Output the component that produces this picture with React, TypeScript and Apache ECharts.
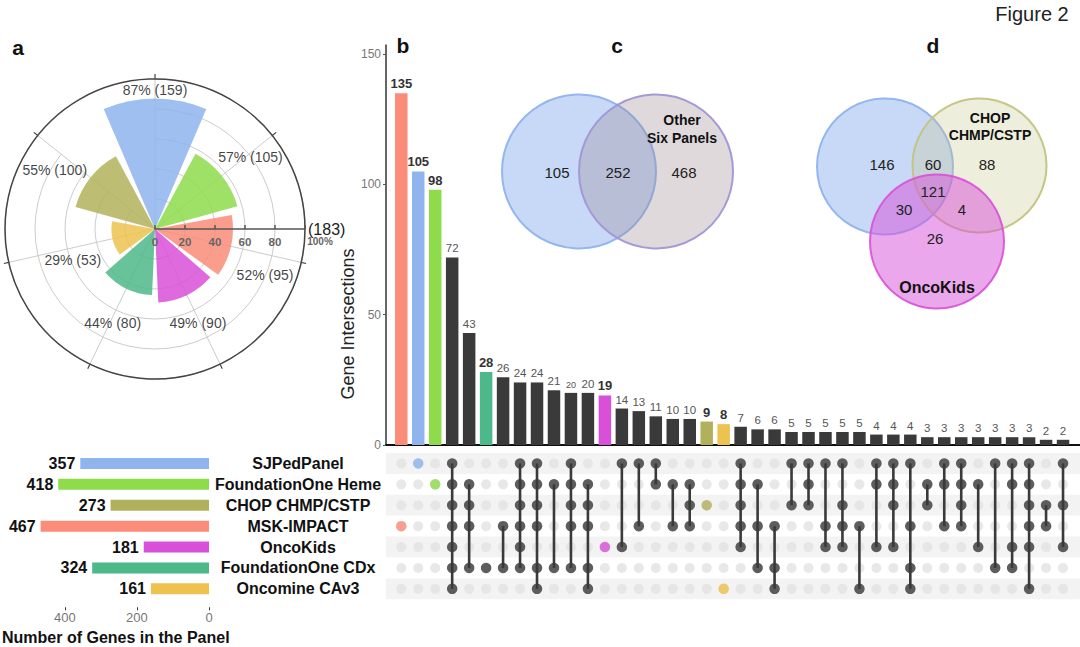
import React, { useEffect, useRef } from 'react';
import * as echarts from 'echarts';

const FONT = '"Liberation Sans", Arial, Helvetica, sans-serif';

// ---- sets (shared by panels a, b) ----
const setNames = ['SJPedPanel', 'FoundationOne Heme', 'CHOP CHMP/CSTP', 'MSK-IMPACT', 'OncoKids', 'FoundationOne CDx', 'Oncomine CAv3'];
const setSizes = [357, 418, 273, 467, 181, 324, 161];
const setColors = ['#8FB4EE', '#8EDB4B', '#B1B15C', '#FA8C79', '#D850D8', '#4DB88A', '#EDC24F'];
const setSizeTicks = [0, 200, 400];

// ---- panel b: intersections ----
const intersectionSizes = [135, 105, 98, 72, 43, 28, 26, 24, 24, 21, 20, 20, 19, 14, 13, 11, 10, 10, 9, 8, 7, 6, 6, 5, 5, 5, 5, 5, 4, 4, 4, 3, 3, 3, 3, 3, 3, 3, 2, 2];
const intersectionSets = [
  [3], [0], [1], [0, 1, 2, 3, 4, 5, 6], [1, 2, 3, 5], [5], [3, 5], [0, 1, 2, 3, 4, 5], [0, 1, 2, 3, 5, 6], [1, 5],
  [0, 1, 2, 3, 5], [1, 2, 3, 5, 6], [4], [0, 4], [0, 3], [0, 1], [1, 3], [1, 2, 3], [2], [6],
  [0, 1, 2, 3, 4], [1, 3, 5], [3, 5, 6], [0, 2], [0, 1, 2], [0, 3, 4], [0, 2, 3, 4], [3, 6], [0, 1, 4], [0, 1, 2, 4],
  [0, 3, 5, 6], [1, 2], [0, 1, 3], [0, 1, 2, 3], [1, 4], [0, 5], [0, 1, 4, 5], [0, 1, 2, 3, 4, 6], [2, 3], [0, 2, 4],
];
const coloredBars = [0, 1, 2, 5, 12, 18, 19];
const coloredDots = [0, 1, 2, 12, 18, 19];
const intersectionTicks = [0, 50, 100, 150];

// ---- panel a: polar ----
const polarSetOrder = [0, 1, 3, 4, 5, 6, 2];
const polarPercent = [87, 57, 52, 49, 44, 29, 55];
const polarCounts = [159, 105, 95, 90, 80, 53, 100];
const polarTotal = 183;
const polarTicks = [0, 20, 40, 60, 80, 100];

// ---- panels c, d: venn values ----
const vennCValues = [105, 252, 468];
const vennCLabel = ['Other', 'Six Panels'];
const vennDValues = [146, 60, 88, 121, 30, 4, 26];

// label offsets (style only)
const polarLabelOffsets = [[0, -74], [62, -45], [72, 37], [27, 61], [-28, 64], [-61, 26], [-68, -33]];

const dark = '#3A3A3A';

function buildOption() {
  const bgDots: number[][] = [];
  for (let c = 0; c < intersectionSizes.length; c++) for (let r = 0; r < setNames.length; r++) bgDots.push([c, r]);
  const memberDots: any[] = [];
  const segs: number[][] = [];
  intersectionSets.forEach((rows, c) => {
    rows.forEach((r) => {
      memberDots.push({ value: [c, r], itemStyle: { color: coloredDots.includes(c) ? setColors[r] : dark } });
    });
    if (rows.length > 1) segs.push([c, Math.min(...rows), Math.max(...rows)]);
  });

  const barColorFor = (i: number) => {
    if (!coloredBars.includes(i)) return dark;
    return setColors[intersectionSets[i][0]];
  };

  const txt = (x: number, y: number, text: string, size: number, weight: string = 'normal', fill = '#222', align = 'center', extra: any = {}) => ({
    type: 'text', x, y, z: 100, ...extra,
    style: { text, fontSize: size, fontWeight: weight, fontFamily: FONT, fill, align, verticalAlign: 'middle' },
  });

  const graphic: any[] = [
    txt(18, 47, 'a', 21, 'bold', '#111'),
    txt(403, 45, 'b', 21, 'bold', '#111'),
    txt(617, 45, 'c', 21, 'bold', '#111'),
    txt(933, 45, 'd', 21, 'bold', '#111'),
    txt(1032, 14, 'Figure 2', 20, 'normal', '#222'),
    txt(348, 324, 'Gene Intersections', 18, 'normal', '#222', 'center', { rotation: Math.PI / 2 }),
    // venn c
    { type: 'circle', shape: { cx: 579, cy: 171.5, r: 77 }, style: { fill: 'rgba(143,179,238,0.5)', stroke: 'rgba(143,179,238,0.95)', lineWidth: 2 }, z: 50 },
    { type: 'circle', shape: { cx: 656, cy: 171.5, r: 77 }, style: { fill: 'rgba(150,130,140,0.3)', stroke: 'rgba(160,150,215,0.95)', lineWidth: 2 }, z: 51 },
    txt(557, 172, String(vennCValues[0]), 15),
    txt(618, 172, String(vennCValues[1]), 15),
    txt(684, 172, String(vennCValues[2]), 15),
    txt(682, 120, vennCLabel[0], 14, 'bold', '#111'),
    txt(682, 138, vennCLabel[1], 14, 'bold', '#111'),
    // venn d
    { type: 'circle', shape: { cx: 885, cy: 166.5, r: 68 }, style: { fill: 'rgba(143,179,238,0.5)', stroke: 'rgba(143,179,238,0.95)', lineWidth: 2 }, z: 50 },
    { type: 'circle', shape: { cx: 979.5, cy: 165.5, r: 67 }, style: { fill: 'rgba(200,200,140,0.3)', stroke: 'rgba(195,195,130,0.95)', lineWidth: 2 }, z: 51 },
    { type: 'circle', shape: { cx: 937, cy: 241.5, r: 67 }, style: { fill: 'rgba(216,80,216,0.5)', stroke: 'rgba(216,80,216,0.9)', lineWidth: 2 }, z: 52 },
    txt(882, 164, String(vennDValues[0]), 15),
    txt(933, 164, String(vennDValues[1]), 15),
    txt(987, 164, String(vennDValues[2]), 15),
    txt(933, 191, String(vennDValues[3]), 15),
    txt(904, 209, String(vennDValues[4]), 15),
    txt(962, 209, String(vennDValues[5]), 15),
    txt(935, 238, String(vennDValues[6]), 15),
    txt(990, 118, 'CHOP', 14, 'bold', '#111'),
    txt(990, 135, 'CHMP/CSTP', 14, 'bold', '#111'),
    txt(937, 287, setNames[4], 16, 'bold', '#111'),
  ];

  return {
    animation: false,
    textStyle: { fontFamily: FONT },
    polar: [
      { center: [155, 229], radius: 150 },
      { center: [155, 229], radius: 150 },
    ],
    angleAxis: [
      {
        polarIndex: 0, type: 'category', data: polarSetOrder.map((i) => setNames[i]), boundaryGap: false, startAngle: 90, clockwise: true,
        axisLine: { show: false },
        axisTick: { show: true, length: 5, lineStyle: { color: '#444', width: 1.2 } },
        axisLabel: { show: false },
        splitLine: { show: true, lineStyle: { color: '#cccccc', width: 1 } },
      },
      {
        polarIndex: 1, type: 'value', min: 0, max: 360, startAngle: 90,
        axisLine: { show: true, lineStyle: { color: '#444', width: 1.5 } },
        axisTick: { show: false }, axisLabel: { show: false }, splitLine: { show: false },
      },
    ],
    radiusAxis: [
      {
        polarIndex: 0, type: 'value', min: 0, max: 100, interval: 20,
        axisLine: { show: false }, axisTick: { show: false }, axisLabel: { show: false },
        splitLine: { show: true, lineStyle: { color: '#cccccc', width: 1 } },
      },
      {
        polarIndex: 1, type: 'value', min: 0, max: 100,
        axisLine: { show: false }, axisTick: { show: false }, axisLabel: { show: false }, splitLine: { show: false },
      },
    ],
    grid: [
      { left: 155, top: 228, width: 150, height: 1 },
      { left: 386, top: 45, width: 694, height: 400 },
      { left: 386, top: 453, width: 694, height: 146.3 },
      { left: 15, top: 453, width: 194, height: 146.3 },
    ],
    xAxis: [
      {
        gridIndex: 0, type: 'value', min: polarTicks[0], max: polarTicks[polarTicks.length - 1], interval: 20, position: 'bottom', z: 10,
        axisLine: { lineStyle: { color: '#555', width: 1.5 } },
        axisTick: { show: true, inside: true, length: 4, lineStyle: { color: '#555', width: 1.5 } },
        axisLabel: {
          margin: 7, fontSize: 11.5, fontWeight: 'bold', color: '#666',
          formatter: (v: number) => (v === 100 ? '{p|100%}' : String(v)),
          rich: { p: { fontSize: 10, fontWeight: 'bold', color: '#666', padding: [0, 0, 0, 30] } },
        },
        splitLine: { show: false },
        name: `(${polarTotal})`, nameLocation: 'end', nameGap: 3, nameMoveOverlap: false,
        nameTextStyle: { fontSize: 16, color: '#222', padding: [0, 0, 8, 0] },
      },
      { gridIndex: 1, type: 'value', min: -0.9, max: 40, axisLine: { onZero: false, lineStyle: { color: '#111', width: 2 } }, axisTick: { show: false }, axisLabel: { show: false }, splitLine: { show: false } },
      { gridIndex: 2, type: 'value', min: -0.9, max: 40, show: false },
      {
        gridIndex: 3, type: 'value', inverse: true, min: 0, max: 517, interval: 200, position: 'bottom', offset: 8,
        axisLine: { onZero: false, lineStyle: { color: '#333', width: 1.5 } },
        axisTick: { show: true, length: 3, lineStyle: { color: '#333' } },
        axisLabel: { color: '#777', fontSize: 13, margin: 4, showMaxLabel: false, formatter: (v: number) => (setSizeTicks.includes(v) ? String(v) : '') },
        splitLine: { show: false },
        name: 'Number of Genes in the Panel', nameLocation: 'middle', nameGap: 22, nameMoveOverlap: false,
        nameTextStyle: { fontSize: 16, fontWeight: 'bold', color: '#111' },
      },
    ],
    yAxis: [
      { gridIndex: 0, type: 'value', show: false },
      {
        gridIndex: 1, type: 'value', min: intersectionTicks[0], max: 153.5, interval: 50,
        axisLine: { show: true, onZero: false, lineStyle: { color: '#333', width: 1.5 } },
        axisTick: { show: true, length: 3, lineStyle: { color: '#555' } },
        axisLabel: { color: '#777', fontSize: 12, margin: 5, showMaxLabel: false, formatter: (v: number) => (intersectionTicks.includes(v) ? String(v) : '') },
        splitLine: { show: false },
      },
      {
        gridIndex: 2, type: 'category', data: setNames, inverse: true,
        axisLine: { show: false, onZero: false }, axisTick: { show: false }, axisLabel: { show: false },
        splitLine: { show: false },
        splitArea: { show: true, areaStyle: { color: ['#f3f3f3', '#ffffff'] } },
      },
      {
        gridIndex: 3, type: 'category', data: setNames, inverse: true, position: 'right',
        axisLine: { show: false, onZero: false }, axisTick: { show: false },
        axisLabel: { fontSize: 16, fontWeight: 'bold', color: '#111', align: 'center', margin: 89 },
      },
    ],
    series: [
      {
        type: 'bar', coordinateSystem: 'polar', polarIndex: 0, barCategoryGap: '10%', z: 2,
        data: polarPercent.map((v, i) => ({
          value: v,
          itemStyle: { color: setColors[polarSetOrder[i]], opacity: 0.85 },
          label: { offset: polarLabelOffsets[i] },
        })),
        label: {
          show: true, position: 'middle', rotate: 0, fontSize: 14, color: '#222',
          formatter: (p: any) => `${p.value}% (${polarCounts[p.dataIndex]})`,
        },
      },
      {
        type: 'bar', xAxisIndex: 1, yAxisIndex: 1, barWidth: 12.5,
        data: intersectionSizes.map((v, i) => {
          const hi = coloredBars.includes(i);
          return {
            value: [i, v],
            itemStyle: { color: barColorFor(i) },
            label: hi
              ? { fontSize: 13, fontWeight: 'bold', color: '#333' }
              : { fontSize: i === 10 ? 9 : 11.5, fontWeight: 'normal', color: '#555' },
          };
        }),
        label: { show: true, position: 'top', distance: 3, formatter: (p: any) => String(p.value[1]) },
      },
      {
        type: 'scatter', xAxisIndex: 2, yAxisIndex: 2, symbolSize: 10, silent: true, z: 2,
        itemStyle: { color: '#e2e2e2' }, data: bgDots,
      },
      {
        type: 'custom', xAxisIndex: 2, yAxisIndex: 2, z: 3, silent: true,
        data: segs,
        encode: { x: 0, y: [1, 2] },
        renderItem: (_params: any, api: any) => {
          const p1 = api.coord([api.value(0), api.value(1)]);
          const p2 = api.coord([api.value(0), api.value(2)]);
          return { type: 'line', shape: { x1: p1[0], y1: p1[1], x2: p2[0], y2: p2[1] }, style: { stroke: dark, lineWidth: 2.6 } };
        },
      },
      {
        type: 'scatter', xAxisIndex: 2, yAxisIndex: 2, symbolSize: 10.5, z: 4, silent: true,
        data: memberDots,
      },
      {
        type: 'bar', xAxisIndex: 3, yAxisIndex: 3, barWidth: 11,
        data: setSizes.map((v, i) => ({ value: v, itemStyle: { color: setColors[i] } })),
        label: { show: true, position: 'left', distance: 5, fontSize: 16, fontWeight: 'bold', color: '#111' },
      },
    ],
    graphic,
  };
}

export default function App() {
  const ref = useRef<HTMLDivElement>(null);
  useEffect(() => {
    if (!ref.current) return;
    const chart = echarts.init(ref.current, undefined, { renderer: 'svg' });
    chart.setOption(buildOption() as any);
    return () => chart.dispose();
  }, []);
  return <div ref={ref} style={{ position: 'absolute', left: 0, top: 0, width: 1080, height: 647, background: '#fff' }} />;
}
